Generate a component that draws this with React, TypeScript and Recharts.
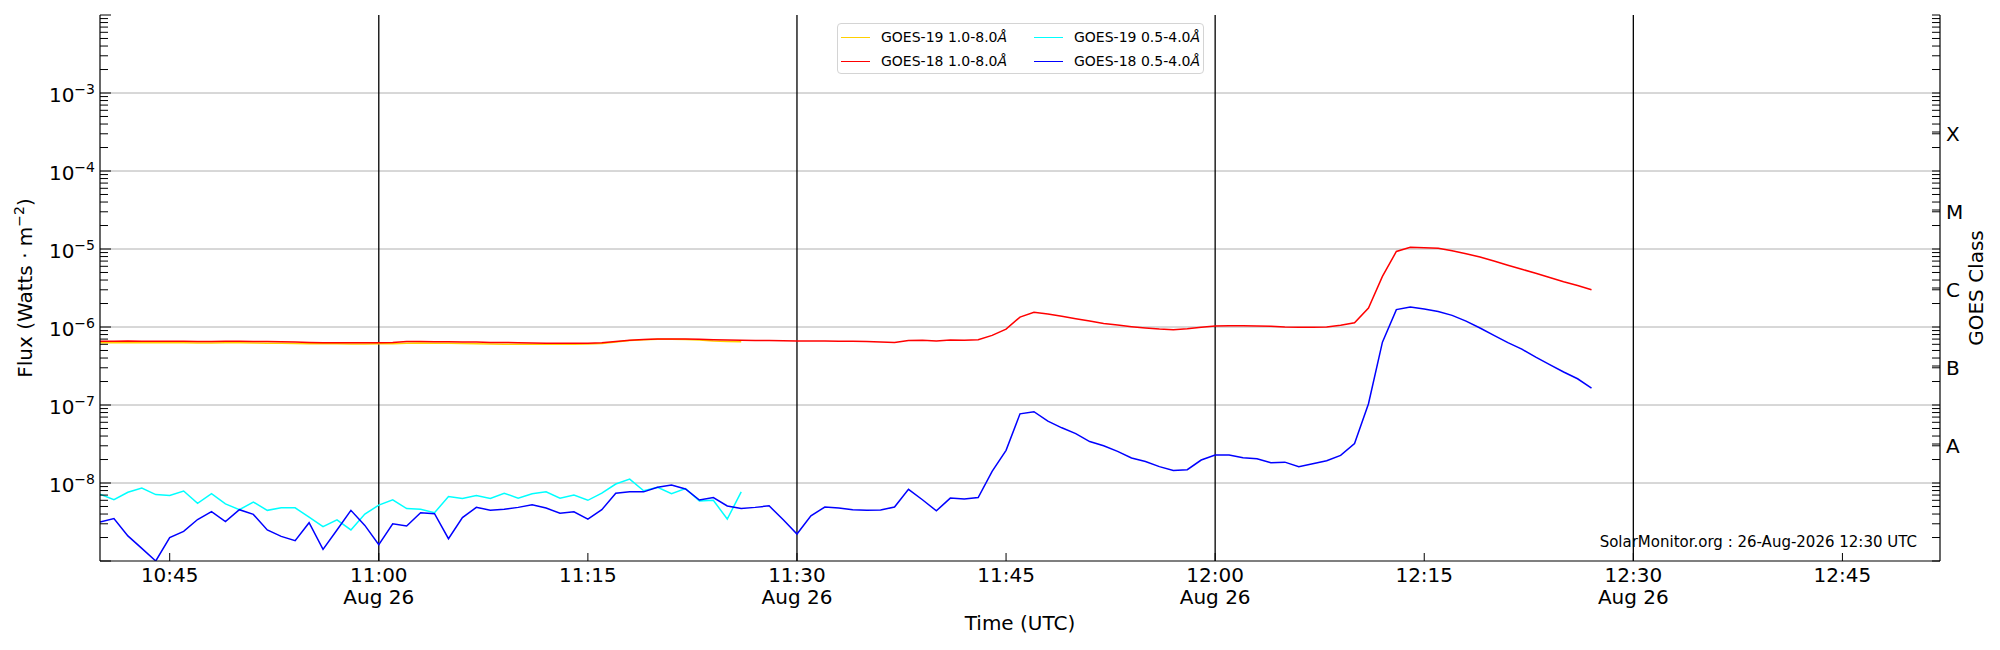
import * as React from "react";
import { Legend, Line, LineChart, ReferenceLine, XAxis, YAxis } from "recharts";

const FONT = "DejaVu Sans, Verdana, sans-serif";

// one-minute GOES samples, 10:40 -> 12:27 UTC
const TIMES = [
  "10:40", "10:41", "10:42", "10:43", "10:44", "10:45", "10:46", "10:47", "10:48", "10:49",
  "10:50", "10:51", "10:52", "10:53", "10:54", "10:55", "10:56", "10:57", "10:58", "10:59",
  "11:00", "11:01", "11:02", "11:03", "11:04", "11:05", "11:06", "11:07", "11:08", "11:09",
  "11:10", "11:11", "11:12", "11:13", "11:14", "11:15", "11:16", "11:17", "11:18", "11:19",
  "11:20", "11:21", "11:22", "11:23", "11:24", "11:25", "11:26", "11:27", "11:28", "11:29",
  "11:30", "11:31", "11:32", "11:33", "11:34", "11:35", "11:36", "11:37", "11:38", "11:39",
  "11:40", "11:41", "11:42", "11:43", "11:44", "11:45", "11:46", "11:47", "11:48", "11:49",
  "11:50", "11:51", "11:52", "11:53", "11:54", "11:55", "11:56", "11:57", "11:58", "11:59",
  "12:00", "12:01", "12:02", "12:03", "12:04", "12:05", "12:06", "12:07", "12:08", "12:09",
  "12:10", "12:11", "12:12", "12:13", "12:14", "12:15", "12:16", "12:17", "12:18", "12:19",
  "12:20", "12:21", "12:22", "12:23", "12:24", "12:25", "12:26", "12:27",
];

// GOES-18 1.0-8.0 Å (W/m²)
const G18_LONG = [
  6.55e-7, 6.55e-7, 6.6e-7, 6.55e-7, 6.55e-7, 6.55e-7, 6.55e-7, 6.5e-7, 6.5e-7, 6.55e-7,
  6.55e-7, 6.5e-7, 6.5e-7, 6.45e-7, 6.4e-7, 6.35e-7, 6.3e-7, 6.3e-7, 6.3e-7, 6.3e-7,
  6.3e-7, 6.35e-7, 6.5e-7, 6.5e-7, 6.45e-7, 6.45e-7, 6.4e-7, 6.4e-7, 6.35e-7, 6.35e-7,
  6.3e-7, 6.25e-7, 6.2e-7, 6.2e-7, 6.2e-7, 6.2e-7, 6.3e-7, 6.5e-7, 6.75e-7, 6.9e-7,
  7.0e-7, 7.0e-7, 7.0e-7, 6.95e-7, 6.85e-7, 6.8e-7, 6.75e-7, 6.7e-7, 6.7e-7, 6.65e-7,
  6.6e-7, 6.6e-7, 6.6e-7, 6.55e-7, 6.55e-7, 6.5e-7, 6.4e-7, 6.35e-7, 6.7e-7, 6.75e-7,
  6.6e-7, 6.8e-7, 6.75e-7, 6.85e-7, 7.8e-7, 9.4e-7, 1.34e-6, 1.54e-6, 1.47e-6, 1.37e-6,
  1.28e-6, 1.19e-6, 1.11e-6, 1.06e-6, 1.01e-6, 9.7e-7, 9.4e-7, 9.2e-7, 9.5e-7, 9.9e-7,
  1.03e-6, 1.04e-6, 1.04e-6, 1.03e-6, 1.02e-6, 1.0e-6, 9.9e-7, 9.9e-7, 1.0e-6, 1.05e-6,
  1.13e-6, 1.75e-6, 4.46e-6, 9.3e-6, 1.05e-5, 1.04e-5, 1.02e-5, 9.5e-6, 8.7e-6, 7.9e-6,
  7.0e-6, 6.2e-6, 5.5e-6, 4.9e-6, 4.3e-6, 3.8e-6, 3.4e-6, 3.0e-6,
];

// GOES-18 0.5-4.0 Å
const G18_SHORT = [
  3.16e-9, 3.5e-9, 2.1e-9, 1.45e-9, 1.0e-9, 2.0e-9, 2.4e-9, 3.4e-9, 4.3e-9, 3.2e-9,
  4.55e-9, 3.96e-9, 2.5e-9, 2.07e-9, 1.82e-9, 3.1e-9, 1.41e-9, 2.5e-9, 4.46e-9, 2.86e-9,
  1.62e-9, 3.0e-9, 2.81e-9, 4.16e-9, 4.04e-9, 1.93e-9, 3.6e-9, 4.87e-9, 4.46e-9, 4.6e-9,
  4.87e-9, 5.27e-9, 4.77e-9, 4.1e-9, 4.28e-9, 3.45e-9, 4.55e-9, 7.4e-9, 7.7e-9, 7.7e-9,
  8.8e-9, 9.4e-9, 8.4e-9, 6.05e-9, 6.5e-9, 5.07e-9, 4.7e-9, 4.87e-9, 5.1e-9, 3.4e-9,
  2.22e-9, 3.8e-9, 4.92e-9, 4.77e-9, 4.55e-9, 4.46e-9, 4.5e-9, 4.92e-9, 8.3e-9, 6.1e-9,
  4.4e-9, 6.4e-9, 6.25e-9, 6.5e-9, 1.41e-8, 2.62e-8, 7.7e-8, 8.2e-8, 6.2e-8, 5.1e-8,
  4.3e-8, 3.4e-8, 3.0e-8, 2.54e-8, 2.09e-8, 1.89e-8, 1.62e-8, 1.45e-8, 1.48e-8, 1.97e-8,
  2.29e-8, 2.29e-8, 2.11e-8, 2.05e-8, 1.82e-8, 1.85e-8, 1.62e-8, 1.77e-8, 1.93e-8, 2.26e-8,
  3.2e-8, 1.04e-7, 6.4e-7, 1.67e-6, 1.8e-6, 1.7e-6, 1.58e-6, 1.41e-6, 1.19e-6, 9.7e-7,
  7.8e-7, 6.3e-7, 5.2e-7, 4.1e-7, 3.3e-7, 2.65e-7, 2.17e-7, 1.65e-7,
];

// GOES-19 only runs to 11:26
const G19_LONG = [
  6.3e-7, 6.3e-7, 6.35e-7, 6.3e-7, 6.3e-7, 6.3e-7, 6.3e-7, 6.25e-7, 6.25e-7, 6.3e-7,
  6.3e-7, 6.25e-7, 6.2e-7, 6.2e-7, 6.15e-7, 6.1e-7, 6.1e-7, 6.1e-7, 6.05e-7, 6.05e-7,
  6.1e-7, 6.1e-7, 6.2e-7, 6.25e-7, 6.2e-7, 6.2e-7, 6.15e-7, 6.1e-7, 6.05e-7, 6.0e-7,
  6.0e-7, 6.0e-7, 6.0e-7, 6.0e-7, 6.0e-7, 6.05e-7, 6.15e-7, 6.4e-7, 6.7e-7, 6.85e-7,
  6.95e-7, 6.95e-7, 6.9e-7, 6.8e-7, 6.6e-7, 6.5e-7, 6.45e-7,
];

const G19_SHORT = [
  7.2e-9, 6.1e-9, 7.6e-9, 8.6e-9, 7.1e-9, 6.9e-9, 7.9e-9, 5.5e-9, 7.3e-9, 5.4e-9,
  4.55e-9, 5.7e-9, 4.46e-9, 4.8e-9, 4.8e-9, 3.66e-9, 2.75e-9, 3.36e-9, 2.5e-9, 4.0e-9,
  5.2e-9, 6.1e-9, 4.7e-9, 4.6e-9, 4.16e-9, 6.7e-9, 6.35e-9, 6.9e-9, 6.35e-9, 7.4e-9,
  6.4e-9, 7.3e-9, 7.7e-9, 6.4e-9, 7.0e-9, 6.0e-9, 7.4e-9, 9.7e-9, 1.12e-8, 7.96e-9,
  8.8e-9, 7.3e-9, 8.5e-9, 5.9e-9, 6.0e-9, 3.45e-9, 7.7e-9,
];

const X_RANGE = ["10:40", "12:52"];
const X_TICKS = ["10:45", "11:00", "11:15", "11:30", "11:45", "12:00", "12:15", "12:30", "12:45"];
/** half-hour marks: get the date line under the time and a black vertical line */
const DATE_TICKS = ["11:00", "11:30", "12:00", "12:30"];
const DATE_LABEL = "Aug 26";

const DECADES = [1e-9, 1e-8, 1e-7, 1e-6, 1e-5, 1e-4, 1e-3, 1e-2];
const GRID_DECADES = [1e-8, 1e-7, 1e-6, 1e-5, 1e-4, 1e-3];
const LABEL_EXPONENTS = [-8, -7, -6, -5, -4, -3];
const MINOR_STEPS = [2, 3, 4, 5, 6, 7, 8, 9];
const CLASS_LABELS = ["A", "B", "C", "M", "X"];
const CLASS_CENTERS = [3.162e-8, 3.162e-7, 3.162e-6, 3.162e-5, 3.162e-4];

const SERIES = [
  { key: "g19Long", name: "GOES-19 1.0-8.0", color: "#ffd000" },
  { key: "g18Long", name: "GOES-18 1.0-8.0", color: "#ff0000" },
  { key: "g19Short", name: "GOES-19 0.5-4.0", color: "#00ffff" },
  { key: "g18Short", name: "GOES-18 0.5-4.0", color: "#0000ff" },
];

const toMin = (s: string) => {
  const [h, m] = s.split(":").map(Number);
  return h * 60 + m;
};
const fmtMin = (v: number) =>
  `${String(Math.floor(v / 60)).padStart(2, "0")}:${String(Math.round(v % 60)).padStart(2, "0")}`;

const rows = TIMES.map((time, i) => ({
  t: toMin(time),
  g19Long: G19_LONG[i],
  g18Long: G18_LONG[i],
  g19Short: G19_SHORT[i],
  g18Short: G18_SHORT[i],
}));

const MINORS = DECADES.slice(0, -1).flatMap((d) => MINOR_STEPS.map((s) => s * d));
const LEFT_TICKS = [...DECADES, ...MINORS].sort((a, b) => a - b);
const RIGHT_TICKS = [...LEFT_TICKS, ...CLASS_CENTERS].sort((a, b) => a - b);

const isDecade = (v: number) => {
  const e = Math.log10(v);
  return Math.abs(e - Math.round(e)) < 1e-6;
};

function FluxTick({ x, y, payload }: any) {
  const v = payload.value as number;
  const major = isDecade(v);
  const n = Math.round(Math.log10(v));
  return (
    <g>
      <line x1={x} x2={x + (major ? 11 : 8)} y1={y} y2={y} stroke="#000" strokeWidth={1} />
      {major && LABEL_EXPONENTS.includes(n) && (
        <text x={x - 5} y={y + 9} textAnchor="end" fontSize={20} fontFamily={FONT} fill="#000">
          10
          <tspan dy={-8} fontSize={14}>{`\u2212${-n}`}</tspan>
        </text>
      )}
    </g>
  );
}

function ClassTick({ x, y, payload }: any) {
  const v = payload.value as number;
  const idx = CLASS_CENTERS.findIndex((c) => Math.abs(Math.log10(c) - Math.log10(v)) < 1e-3);
  return (
    <g>
      <line x1={x} x2={x - 8} y1={y} y2={y} stroke="#000" strokeWidth={1} />
      {idx >= 0 && (
        <text x={x + 6} y={y + 9} fontSize={20} fontFamily={FONT} fill="#000">
          {CLASS_LABELS[idx]}
        </text>
      )}
    </g>
  );
}

function TimeTick({ x, y, payload }: any) {
  const label = fmtMin(payload.value);
  return (
    <g>
      <line x1={x} x2={x} y1={y} y2={y - 8} stroke="#000" strokeWidth={1} />
      <text x={x} y={y + 21} textAnchor="middle" fontSize={20} fontFamily={FONT} fill="#000">
        {label}
      </text>
      {DATE_TICKS.includes(label) && (
        <text x={x} y={y + 43} textAnchor="middle" fontSize={20} fontFamily={FONT} fill="#000">
          {DATE_LABEL}
        </text>
      )}
    </g>
  );
}

function LegendBox() {
  return (
    <div
      style={{
        position: "relative",
        width: 367,
        height: 51,
        boxSizing: "border-box",
        border: "1px solid #d4d4d4",
        borderRadius: 4,
        background: "rgba(255,255,255,0.8)",
        fontFamily: FONT,
        fontSize: 14,
        color: "#000",
      }}
    >
      {SERIES.map((s, i) => (
        <div
          key={s.key}
          style={{
            position: "absolute",
            left: i < 2 ? 3 : 196,
            top: i % 2 === 0 ? 2 : 26,
            height: 22,
            display: "flex",
            alignItems: "center",
            whiteSpace: "nowrap",
          }}
        >
          <span style={{ display: "inline-block", width: 29, borderTop: `1.5px solid ${s.color}`, marginRight: 11 }} />
          <span>
            {s.name}
            <i>Å</i>
          </span>
        </div>
      ))}
    </div>
  );
}

const axisStroke = { stroke: "#000", strokeWidth: 1.2 };

export default function App() {
  return (
    <div style={{ position: "absolute", left: 0, top: 0, width: 2000, height: 650, background: "#fff" }}>
      <LineChart width={2000} height={650} data={rows} margin={{ top: 15, right: 0, bottom: 0, left: 0 }}>
        <XAxis
          xAxisId="top"
          orientation="top"
          type="number"
          dataKey="t"
          domain={X_RANGE.map(toMin)}
          allowDataOverflow
          height={0}
          tick={false}
          tickLine={false}
          axisLine={axisStroke}
        />
        <XAxis
          xAxisId="bottom"
          type="number"
          dataKey="t"
          domain={X_RANGE.map(toMin)}
          allowDataOverflow
          ticks={X_TICKS.map(toMin)}
          interval={0}
          height={89}
          tickSize={0}
          tickMargin={0}
          tickLine={false}
          axisLine={axisStroke}
          tick={(p: any) => <TimeTick {...p} />}
          label={{
            content: (p: any) => {
              const vb = p.viewBox;
              return (
                <text x={vb.x + vb.width / 2} y={vb.y + 69} textAnchor="middle" fontSize={20} fontFamily={FONT} fill="#000">
                  Time (UTC)
                </text>
              );
            },
          }}
        />
        <YAxis
          yAxisId="left"
          type="number"
          scale="log"
          domain={[1e-9, 1e-2]}
          allowDataOverflow
          ticks={LEFT_TICKS}
          interval={0}
          width={100}
          tickSize={0}
          tickMargin={0}
          tickLine={false}
          axisLine={axisStroke}
          tick={(p: any) => <FluxTick {...p} />}
          label={{
            content: (p: any) => {
              const vb = p.viewBox;
              const cx = vb.x + 32;
              const cy = vb.y + vb.height / 2;
              return (
                <text x={cx} y={cy} transform={`rotate(-90 ${cx} ${cy})`} textAnchor="middle" fontSize={20} fontFamily={FONT} fill="#000">
                  Flux (Watts · m
                  <tspan dy={-8} fontSize={14}>{"\u22122"}</tspan>
                  <tspan dy={8}>)</tspan>
                </text>
              );
            },
          }}
        />
        <YAxis
          yAxisId="right"
          orientation="right"
          type="number"
          scale="log"
          domain={[1e-9, 1e-2]}
          allowDataOverflow
          ticks={RIGHT_TICKS}
          interval={0}
          width={60}
          tickSize={0}
          tickMargin={0}
          tickLine={false}
          axisLine={axisStroke}
          tick={(p: any) => <ClassTick {...p} />}
          label={{
            content: (p: any) => {
              const vb = p.viewBox;
              const cx = vb.x + 43;
              const cy = vb.y + vb.height / 2;
              return (
                <text x={cx} y={cy} transform={`rotate(-90 ${cx} ${cy})`} textAnchor="middle" fontSize={20} fontFamily={FONT} fill="#000">
                  GOES Class
                </text>
              );
            },
          }}
        />
        {GRID_DECADES.map((d) => (
          <ReferenceLine key={d} y={d} yAxisId="left" xAxisId="bottom" stroke="#b0b0b0" strokeWidth={1} />
        ))}
        {DATE_TICKS.map((s) => (
          <ReferenceLine key={s} x={toMin(s)} xAxisId="bottom" yAxisId="left" stroke="#000" strokeWidth={1.3} />
        ))}
        {SERIES.map((s) => (
          <Line
            key={s.key}
            xAxisId="bottom"
            yAxisId="left"
            type="linear"
            dataKey={s.key}
            name={s.name}
            stroke={s.color}
            strokeWidth={1.5}
            dot={false}
            activeDot={false}
            isAnimationActive={false}
          />
        ))}
        <Legend
          layout="vertical"
          align="center"
          verticalAlign="middle"
          wrapperStyle={{ left: 837, top: 23, width: 367, height: 51 }}
          content={() => <LegendBox />}
        />
      </LineChart>
      <div
        style={{
          position: "absolute",
          right: 83,
          top: 534,
          fontFamily: FONT,
          fontSize: 15,
          lineHeight: "16px",
          color: "#000",
          whiteSpace: "nowrap",
        }}
      >
        SolarMonitor.org : 26-Aug-2026 12:30 UTC
      </div>
    </div>
  );
}
